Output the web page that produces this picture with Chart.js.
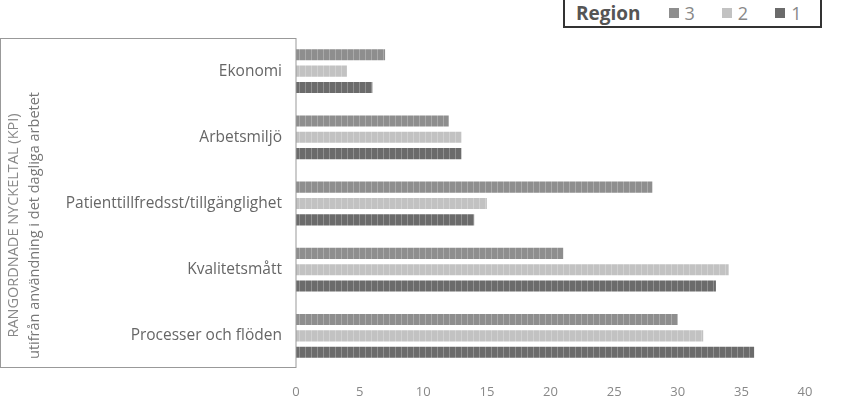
<!DOCTYPE html>
<html>
<head>
<meta charset="utf-8">
<script src="https://cdn.jsdelivr.net/npm/chart.js@4"></script>
<style>
  html, body { margin: 0; padding: 0; background: #fff; }
  #wrap { position: relative; width: 843px; height: 409px; }
  #legend {
    position: absolute; left: 563px; top: -3px; width: 259px; height: 31px;
    border: 2px solid #333; box-sizing: border-box; background: #fff;
    font-family: 'Open Sans', sans-serif; display: flex; align-items: center;
  }
  #legend .ttl { font-weight: bold; font-size: 19px; color: #555; margin-left: 11px; margin-right: 1px; }
  #legend .item { font-size: 18px; color: #888; margin-left: 27px; display: flex; align-items: center; }
  #legend .box { width: 10px; height: 10px; display: inline-block; margin-right: 6px; }
</style>
</head>
<body>
<div id="wrap">
  <canvas id="myChart" width="843" height="409"></canvas>
  <div id="legend"></div>
</div>
<script>
'use strict'

let categories = ['Ekonomi', 'Arbetsmiljö', 'Patienttillfredsst/tillgänglighet', 'Kvalitetsmått', 'Processer och flöden']
let region3 = [7, 12, 28, 21, 30]
let region2 = [4, 13, 15, 34, 32]
let region1 = [6, 13, 14, 33, 36]
let seriesNames = ['3', '2', '1']
let seriesColors = ['#8e8e8e', '#c2c2c2', '#6b6b6b']
let legendTitle = 'Region'
let yTitle = ['RANGORDNADE NYCKELTAL (KPI)', 'utifrån användning i det dagliga arbetet']

// striped fill like the scanned excel bars
function makePattern(color) {
    let c = document.createElement('canvas')
    c.width = 6
    c.height = 10
    let g = c.getContext('2d')
    g.fillStyle = color
    g.fillRect(0, 0, 6, 10)
    g.fillStyle = 'rgba(255,255,255,0.25)'
    g.fillRect(5, 0, 1, 10)
    return g.createPattern(c, 'repeat')
}

// box around the axis area + the two line title (sits a bit low, like the original)
let boxPlugin = {
    id: 'axisBox',
    afterDraw(chart) {
        let ctx = chart.ctx
        let y = chart.scales.y
        ctx.save()
        ctx.strokeStyle = '#999'
        ctx.lineWidth = 1
        ctx.strokeRect(0.5, y.top + 0.5, y.right - 0.5, y.bottom - y.top - 2)
        let cy = (y.top + y.bottom) / 2 + 22
        ctx.translate(0, cy)
        ctx.rotate(-Math.PI / 2)
        ctx.textAlign = 'center'
        ctx.textBaseline = 'middle'
        ctx.font = '14.5px "Open Sans"'
        ctx.fillStyle = '#888'
        ctx.fillText(yTitle[0], 0, 14)
        ctx.fillStyle = '#777'
        ctx.fillText(yTitle[1], 0, 35)
        ctx.restore()
    }
}

let allValues = [region3, region2, region1]
let ctx = document.getElementById('myChart')
const myChart = new Chart(ctx, {
    type: 'bar',
    data: {
        labels: categories,
        datasets: allValues.map((vals, i) => ({
            label: seriesNames[i],
            data: vals,
            backgroundColor: makePattern(seriesColors[i]),
            borderWidth: 0,
            categoryPercentage: 0.74,
            barPercentage: 0.68
        }))
    },
    options: {
        indexAxis: 'y',
        responsive: false,
        animation: false,
        layout: { padding: { top: 38, right: 38, left: 0, bottom: 0 } },
        plugins: {
            legend: { display: false },
            tooltip: { enabled: false }
        },
        scales: {
            x: {
                min: 0,
                max: 40,
                ticks: { stepSize: 5, color: '#888', padding: 15, font: { family: 'Open Sans', size: 13 } },
                grid: { display: false, drawTicks: false },
                border: { display: false },
                afterFit(scale) { scale.height = 40 }
            },
            y: {
                ticks: { color: '#666', padding: 14, font: { family: 'Open Sans', size: 15.5 } },
                grid: { display: false, drawTicks: false },
                border: { display: false },
                afterFit(scale) { scale.width = 296 }
            }
        }
    },
    plugins: [boxPlugin]
});

// html legend built from the series arrays
let legendEl = document.getElementById('legend')
let t = document.createElement('span')
t.className = 'ttl'
t.textContent = legendTitle
legendEl.appendChild(t)
seriesNames.forEach((name, i) => {
    let item = document.createElement('span')
    item.className = 'item'
    let b = document.createElement('span')
    b.className = 'box'
    b.style.background = seriesColors[i]
    item.appendChild(b)
    item.appendChild(document.createTextNode(name))
    legendEl.appendChild(item)
})
</script>
</body>
</html>
